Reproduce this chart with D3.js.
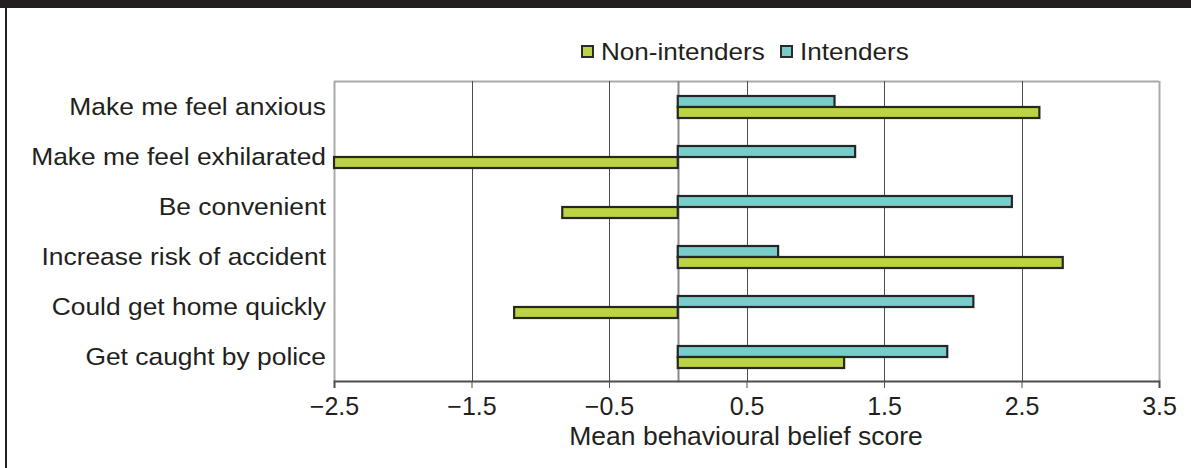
<!DOCTYPE html>
<html>
<head>
<meta charset="utf-8">
<script src="https://cdn.jsdelivr.net/npm/d3@7"></script>
<style>
  body { margin: 0; background: #fff; }
  text { font-family: "Liberation Sans", Arial, sans-serif; fill: #231f20; }
</style>
</head>
<body>
<div id="chart"></div>
<script>
// data
var categories = ["Make me feel anxious", "Make me feel exhilarated", "Be convenient",
                  "Increase risk of accident", "Could get home quickly", "Get caught by police"];
var seriesNames = ["Intenders", "Non-intenders"];
var intenders    = [1.14, 1.29, 2.43, 0.73, 2.15, 1.96];
var nonIntenders = [2.63, -2.50, -0.84, 2.80, -1.19, 1.21];
var tickValues = [-2.5, -1.5, -0.5, 0.5, 1.5, 2.5, 3.5];
var axisTitle = "Mean behavioural belief score";

var colors = { "Intenders": "#78cdcb", "Non-intenders": "#bdd244" };

var width = 1191, height = 468;
var plotLeft = 334, plotRight = 1159, plotTop = 81, plotBottom = 381;

var svg = d3.select("#chart").append("svg")
    .attr("width", width)
    .attr("height", height);

// frame: dark band on top, dark rule on the left
svg.append("rect").attr("x", 0).attr("y", 0).attr("width", width).attr("height", 8).attr("fill", "#231f20");
svg.append("rect").attr("x", 5).attr("y", 0).attr("width", 2).attr("height", height).attr("fill", "#231f20");

var x = d3.scaleLinear().domain([-2.5, 3.5]).range([plotLeft, plotRight]);
var y0 = d3.scaleBand().domain(categories).range([plotTop + 1, plotBottom + 1]).paddingInner(0.56).paddingOuter(0.28);
var y1 = d3.scaleBand().domain(seriesNames).range([0, y0.bandwidth()]);

// grid
svg.append("line").attr("x1", plotLeft).attr("x2", plotRight).attr("y1", plotTop + 0.5).attr("y2", plotTop + 0.5)
  .attr("stroke", "#a9a9a9").attr("stroke-width", 2);
svg.selectAll(".grid").data(tickValues).enter().append("line")
  .attr("class", "grid")
  .attr("x1", function(d){ return Math.round(x(d)) + 0.5; })
  .attr("x2", function(d){ return Math.round(x(d)) + 0.5; })
  .attr("y1", plotTop).attr("y2", plotBottom)
  .attr("stroke", function(d){ return (d == -2.5 || d == 3.5) ? "#a9a9a9" : "#4d4d4d"; })
  .attr("stroke-width", function(d){ return (d == -2.5 || d == 3.5) ? 2 : 1; });
svg.append("line")
  .attr("x1", Math.round(x(0)) + 0.5).attr("x2", Math.round(x(0)) + 0.5)
  .attr("y1", plotTop).attr("y2", plotBottom)
  .attr("stroke", "#8a8a8a").attr("stroke-width", 2);

// bars
var rows = categories.map(function(c, i){
  return { cat: c, vals: [ { s: "Intenders", v: intenders[i] }, { s: "Non-intenders", v: nonIntenders[i] } ] };
});
var g = svg.selectAll(".row").data(rows).enter().append("g")
  .attr("transform", function(d){ return "translate(0," + y0(d.cat) + ")"; });
g.selectAll("rect").data(function(d){ return d.vals; }).enter().append("rect")
  .attr("x", function(d){ return x(Math.min(0, d.v)); })
  .attr("width", function(d){ return Math.abs(x(d.v) - x(0)); })
  .attr("y", function(d){ return y1(d.s); })
  .attr("height", y1.bandwidth())
  .attr("fill", function(d){ return colors[d.s]; })
  .attr("stroke", "#262626")
  .attr("stroke-width", 2.2);

// x axis
var xAxis = d3.axisBottom(x).tickValues(tickValues).tickSize(7).tickPadding(8).tickFormat(d3.format(".1f"));
var ax = svg.append("g").attr("transform", "translate(0," + plotBottom + ")").call(xAxis);
ax.select(".domain").attr("stroke", "#4d4d4d").attr("stroke-width", 2);
ax.selectAll(".tick line").attr("stroke", "#4d4d4d");
ax.selectAll(".tick text").attr("font-size", 25).attr("fill", "#231f20")
  .attr("font-family", "Liberation Sans, Arial, sans-serif").attr("dy", "0.75em");

// category labels (type is a bit wider than tall in the source)
svg.selectAll(".cat").data(categories).enter().append("text")
  .attr("class", "cat")
  .attr("text-anchor", "end")
  .attr("font-size", 24)
  .attr("transform", function(d){ return "translate(326," + (y0(d) + y0.bandwidth() / 2 + 7.5) + ") scale(1.1,1)"; })
  .text(function(d){ return d; });

// axis title
svg.append("text")
  .attr("text-anchor", "middle")
  .attr("font-size", 25)
  .attr("transform", "translate(746,445) scale(1.06,1)")
  .text(axisTitle);

// legend
var legendItems = [ { s: "Non-intenders", x: 582 }, { s: "Intenders", x: 781 } ];
var lg = svg.selectAll(".leg").data(legendItems).enter().append("g")
  .attr("transform", function(d){ return "translate(" + d.x + ",46)"; });
lg.append("rect").attr("width", 11).attr("height", 11)
  .attr("fill", function(d){ return colors[d.s]; })
  .attr("stroke", "#2b2b2b").attr("stroke-width", 2);
lg.append("text")
  .attr("font-size", 23.5)
  .attr("transform", "translate(19,13.5) scale(1.11,1)")
  .text(function(d){ return d.s; });
</script>
</body>
</html>
